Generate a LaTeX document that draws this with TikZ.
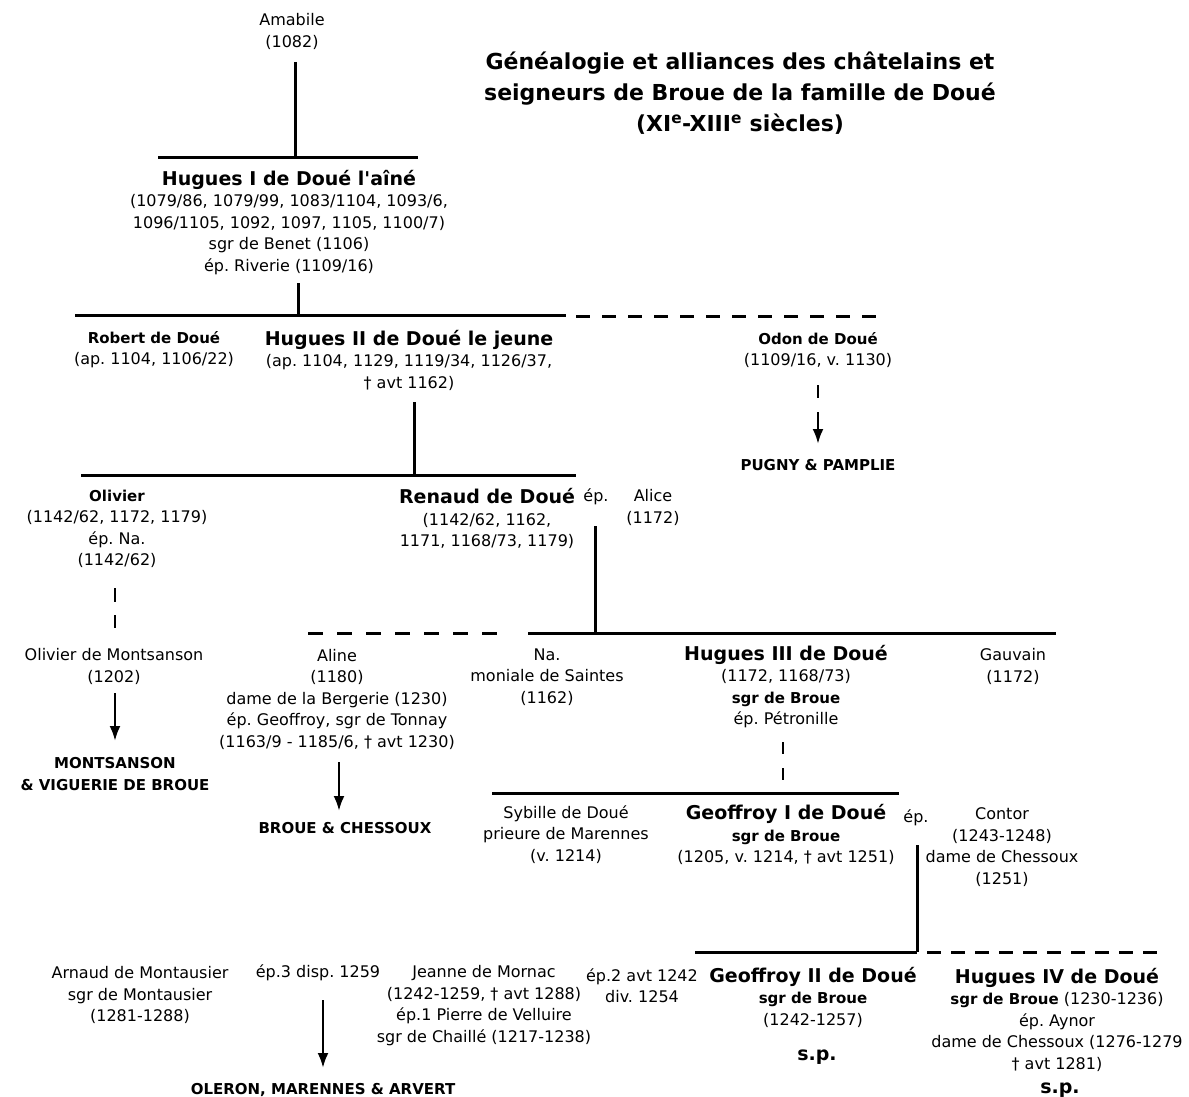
\documentclass[tikz,border=0pt]{standalone}
\usepackage{fontspec}
\setmainfont{DejaVu Sans}[Ligatures=TeXOff]
\usetikzlibrary{arrows.meta}
\newcommand{\gbig}{\fontsize{19}{21.5}\selectfont\bfseries}
\newcommand{\gsmall}{\fontsize{15}{21.5}\selectfont\bfseries}
\frenchspacing
\begin{document}
\begin{tikzpicture}[x=1pt,y=-1pt,
  txt/.style={align=center,inner sep=0pt,font=\fontsize{16}{21.5}\selectfont\frenchspacing},
  bar/.style={line width=3pt},
  dbar/.style={line width=3pt,dash pattern=on 14pt off 12pt},
  arr/.style={line width=2.6pt,-{Latex[length=15pt,width=11pt]}}]
\useasboundingbox[fill=white] (0,0) rectangle (1189,1097);

% ---------- text nodes
\node[txt] (amabile) at (292,31.5) {Amabile\\(1082)};
\node[txt,font=\fontsize{22}{31}\selectfont\bfseries] (title) at (740,93)
  {Généalogie et alliances des châtelains et\\seigneurs de Broue de la famille de Doué\\(XI\textsuperscript{e}-XIII\textsuperscript{e} siècles)};
\node[txt] (h1) at (289,222.5) {{\gbig Hugues I de Doué l'aîné}\\(1079/86, 1079/99, 1083/1104, 1093/6,\\1096/1105, 1092, 1097, 1105, 1100/7)\\sgr de Benet (1106)\\ép. Riverie (1109/16)};
\node[txt] (robert) at (154,349.5) {{\gsmall Robert de Doué}\\(ap. 1104, 1106/22)};
\node[txt] (h2) at (409,360) {{\gbig Hugues II de Doué le jeune}\\(ap. 1104, 1129, 1119/34, 1126/37,\\† avt 1162)};
\node[txt] (odon) at (818,350) {{\gsmall Odon de Doué}\\(1109/16, v. 1130)};
\node[txt,font=\gsmall] (pugny) at (818,465) {PUGNY \& PAMPLIE};
\node[txt] (olivier) at (117,529) {{\gsmall Olivier}\\(1142/62, 1172, 1179)\\ép. Na.\\(1142/62)};
\node[txt] (renaud) at (487,518.5) {{\gbig Renaud de Doué}\\(1142/62, 1162,\\1171, 1168/73, 1179)};
\node[txt] (ep1) at (596,497) {ép.};
\node[txt] (alice) at (653,507.5) {Alice\\(1172)};
\node[txt] (olm) at (114,666.5) {Olivier de Montsanson\\(1202)};
\node[txt,font=\gsmall] (montsanson) at (115,774) {MONTSANSON\\\& VIGUERIE DE BROUE};
\node[txt] (aline) at (337,699) {Aline\\(1180)\\dame de la Bergerie (1230)\\ép. Geoffroy, sgr de Tonnay\\(1163/9 - 1185/6, † avt 1230)};
\node[txt,font=\gsmall] (brouech) at (345,828) {BROUE \& CHESSOUX};
\node[txt] (na) at (547,677) {Na.\\moniale de Saintes\\(1162)};
\node[txt] (h3) at (786,686.5) {{\gbig Hugues III de Doué}\\(1172, 1168/73)\\{\gsmall sgr de Broue}\\ép. Pétronille};
\node[txt] (gauvain) at (1013,666.5) {Gauvain\\(1172)};
\node[txt] (sybille) at (566,834.5) {Sybille de Doué\\prieure de Marennes\\(v. 1214)};
\node[txt] (g1) at (786,834.5) {{\gbig Geoffroy I de Doué}\\{\gsmall sgr de Broue}\\(1205, v. 1214, † avt 1251)};
\node[txt] (ep2) at (916,818) {ép.};
\node[txt] (contor) at (1002,847) {Contor\\(1243-1248)\\dame de Chessoux\\(1251)};
\node[txt] (arnaud) at (140,995) {Arnaud de Montausier\\sgr de Montausier\\(1281-1288)};
\node[txt] (ep3) at (318,973) {ép.3 disp. 1259};
\node[txt,font=\gsmall] (oleron) at (323,1090) {OLERON, MARENNES \& ARVERT};
\node[txt] (jeanne) at (484,1005.5) {Jeanne de Mornac\\(1242-1259, † avt 1288)\\ép.1 Pierre de Velluire\\sgr de Chaillé (1217-1238)};
\node[txt] (ep4) at (642,985.5) {ép.2 avt 1242\\div. 1254};
\node[txt] (g2) at (813,997) {{\gbig Geoffroy II de Doué}\\{\gsmall sgr de Broue}\\(1242-1257)};
\node[txt,font=\gbig] (sp1) at (817,1057) {s.p.};
\node[txt] (h4) at (1057,1019.5) {{\gbig Hugues IV de Doué}\\{\gsmall sgr de Broue} (1230-1236)\\ép. Aynor\\dame de Chessoux (1276-1279\\† avt 1281)};
\node[txt,font=\gbig] (sp2) at (1060,1090) {s.p.};

% ---------- coordinates
\coordinate (v1t) at (295,62);   \coordinate (v1b) at (295,158);
\coordinate (b1l) at (158,158);  \coordinate (b1r) at (418,158);
\coordinate (v2t) at (298,283);  \coordinate (v2b) at (298,315);
\coordinate (b2l) at (75,315);   \coordinate (b2m) at (566,315);
\coordinate (b2d) at (576,316);  \coordinate (b2r) at (880,316);
\coordinate (v3t) at (414,402);  \coordinate (v3b) at (414,475);
\coordinate (b3l) at (81,475);   \coordinate (b3r) at (576,475);
\coordinate (od1) at (818,385);  \coordinate (od2) at (818,398);
\coordinate (od3) at (818,412);  \coordinate (od4) at (818,444);
\coordinate (ol1) at (115,588);  \coordinate (ol2) at (115,628);
\coordinate (v4t) at (595,526);  \coordinate (v4b) at (595,633);
\coordinate (b4l) at (308,633);  \coordinate (b4d) at (507,633);
\coordinate (b4m) at (528,633);  \coordinate (b4r) at (1056,633);
\coordinate (om1) at (115,693);  \coordinate (om2) at (115,741);
\coordinate (al1) at (339,762);  \coordinate (al2) at (339,811);
\coordinate (h31) at (783,742);  \coordinate (h32) at (783,781);
\coordinate (b5l) at (492,793);  \coordinate (b5r) at (899,793);
\coordinate (v6t) at (917,845);  \coordinate (v6b) at (917,952);
\coordinate (b6l) at (695,952);  \coordinate (b6d) at (927,952);
\coordinate (b6r) at (1166,952);
\coordinate (oa1) at (323,1000); \coordinate (oa2) at (323,1068);

% ---------- connectors
\draw[bar] (v1t) -- (v1b);
\draw[bar] (b1l) -- (b1r);
\draw[bar] (v2t) -- (v2b);
\draw[bar] (b2l) -- (b2m);
\draw[dbar] (b2d) -- (b2r);
\draw[bar] (v3t) -- (v3b);
\draw[bar] (b3l) -- (b3r);
\draw[line width=2.6pt] (od1) -- (od2);
\draw[arr] (od3) -- (od4);
\draw[line width=2.6pt,dash pattern=on 14pt off 13pt] (ol1) -- (ol2);
\draw[bar] (v4t) -- (v4b);
\draw[line width=3pt,dash pattern=on 15pt off 14pt] (b4l) -- (b4d);
\draw[bar] (b4m) -- (b4r);
\draw[arr] (om1) -- (om2);
\draw[arr] (al1) -- (al2);
\draw[line width=2.6pt,dash pattern=on 12pt off 14pt] (h31) -- (h32);
\draw[bar] (b5l) -- (b5r);
\draw[bar] (v6t) -- (v6b);
\draw[bar] (b6l) -- (v6b);
\draw[line width=3pt,dash pattern=on 14pt off 10pt] (b6d) -- (b6r);
\draw[arr] (oa1) -- (oa2);
\end{tikzpicture}
\end{document}
